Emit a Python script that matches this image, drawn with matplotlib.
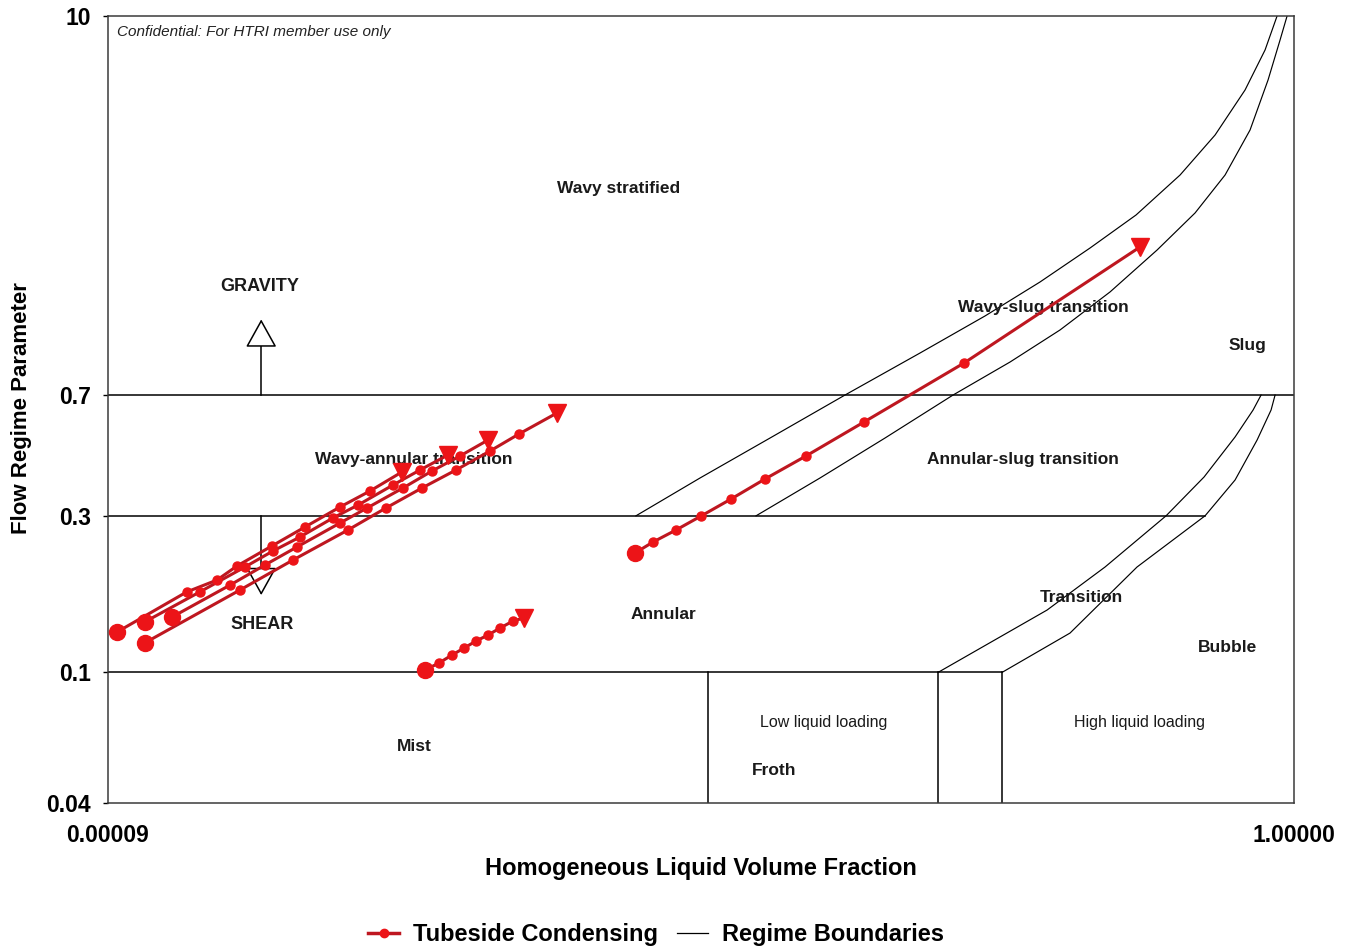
import matplotlib.pyplot as plt
from matplotlib.lines import Line2D
from matplotlib.ticker import NullLocator

plt.rcParams['font.family'] = ['Liberation Sans', 'DejaVu Sans']

# condensing paths: homogeneous liquid volume fraction vs flow regime parameter
path1_x = [9.66e-5, 1.67e-4, 2.12e-4, 2.48e-4, 3.26e-4, 4.23e-4, 5.57e-4, 7.05e-4, 9.06e-4]
path1_y = [0.1327, 0.1758, 0.1912, 0.2110, 0.2427, 0.2773, 0.3191, 0.3570, 0.4080]
path2_x = [1.20e-4, 1.85e-4, 2.64e-4, 3.29e-4, 4.07e-4, 5.27e-4, 6.42e-4, 8.45e-4, 1.044e-3, 1.300e-3]
path2_y = [0.1424, 0.1758, 0.2095, 0.2344, 0.2586, 0.2955, 0.3236, 0.3724, 0.4137, 0.4596]
path3_x = [1.49e-4, 2.35e-4, 3.09e-4, 3.97e-4, 5.57e-4, 6.89e-4, 9.14e-4, 1.148e-3, 1.430e-3, 1.782e-3]
path3_y = [0.1475, 0.1846, 0.2125, 0.2410, 0.2852, 0.3169, 0.3647, 0.4109, 0.4565, 0.5106]
path4_x = [1.20e-4, 2.54e-4, 3.85e-4, 5.93e-4, 7.99e-4, 1.061e-3, 1.385e-3, 1.810e-3, 2.272e-3, 3.063e-3]
path4_y = [0.1229, 0.1783, 0.2200, 0.2716, 0.3169, 0.3647, 0.4137, 0.4727, 0.5326, 0.6172]
path5_x = [1.086e-3, 1.212e-3, 1.343e-3, 1.475e-3, 1.621e-3, 1.782e-3, 1.958e-3, 2.168e-3, 2.363e-3]
path5_y = [0.1017, 0.1068, 0.1130, 0.1186, 0.1246, 0.1300, 0.1365, 0.1434, 0.1465]
path6_x = [5.653e-3, 6.512e-3, 7.803e-3, 9.50e-3, 1.202e-2, 1.570e-2, 2.166e-2, 3.416e-2, 7.495e-2, 0.2987]
path6_y = [0.2311, 0.2496, 0.2716, 0.2996, 0.3375, 0.3885, 0.4565, 0.5794, 0.8763, 1.978]
paths = [(path1_x, path1_y), (path2_x, path2_y), (path3_x, path3_y),
         (path4_x, path4_y), (path5_x, path5_y), (path6_x, path6_y)]

# regime boundaries
ws_upper_x = [0.005696, 0.009423, 0.01633, 0.02942, 0.05306, 0.08838, 0.1361,
              0.2017, 0.2895, 0.4090, 0.5385, 0.6814, 0.7974, 0.8763]
ws_upper_y = [0.3, 0.3912, 0.5178, 0.7, 0.9402, 1.219, 1.547,
              1.964, 2.476, 3.277, 4.339, 5.950, 7.879, 10.0]
ws_lower_x = [0.01463, 0.02418, 0.04029, 0.06874, 0.1076, 0.1593, 0.2360,
              0.3414, 0.4601, 0.5824, 0.7087, 0.8163, 0.8971, 0.9479]
ws_lower_y = [0.3, 0.3912, 0.5178, 0.7, 0.8826, 1.105, 1.443,
              1.936, 2.511, 3.277, 4.494, 6.383, 8.451, 10.0]
tr_left_x = [0.0611, 0.1439, 0.2269, 0.3664, 0.4938, 0.6300, 0.7258, 0.7727]
tr_left_y = [0.1, 0.1549, 0.2095, 0.3, 0.3939, 0.5216, 0.6302, 0.7]
tr_right_x = [0.1010, 0.1723, 0.2917, 0.4977, 0.6300, 0.7490, 0.8359, 0.8626]
tr_right_y = [0.1, 0.1318, 0.2095, 0.3, 0.3857, 0.5106, 0.6302, 0.7]
froth_x = [0.0100, 0.0611, 0.1010]

x_min, x_max = 9e-5, 1.0
y_min, y_max = 0.04, 10.0
y_ticks = [0.04, 0.1, 0.3, 0.7, 10]
y_tick_labels = ['0.04', '0.1', '0.3', '0.7', '10']
arrow_x = 3.0e-4

red_line = '#BE1720'
red_mark = '#EC1418'

fig = plt.figure(figsize=(13.56, 9.51), dpi=100)
ax = fig.add_axes([0.0796, 0.1556, 0.8746, 0.8276])
ax.set_xscale('log')
ax.set_yscale('log')
ax.set_xlim(x_min, x_max)
ax.set_ylim(y_min, y_max)

bk = dict(color='black', lw=1.1, zorder=2)
ax.plot([x_min, x_max], [0.7, 0.7], **bk)
ax.plot([x_min, tr_right_x[3]], [0.3, 0.3], **bk)
ax.plot([x_min, tr_right_x[0]], [0.1, 0.1], **bk)
for xv in froth_x:
    ax.plot([xv, xv], [y_min, 0.1], **bk)
thin = dict(color='black', lw=0.85, zorder=2)
ax.plot(ws_upper_x, ws_upper_y, **thin)
ax.plot(ws_lower_x, ws_lower_y, **thin)
ax.plot(tr_left_x, tr_left_y, **thin)
ax.plot(tr_right_x, tr_right_y, **thin)

# gravity / shear arrows
ax.plot([arrow_x, arrow_x], [0.7, 1.0], color='black', lw=1.1)
ax.annotate('', xy=(arrow_x, 1.19), xytext=(arrow_x, 0.99),
            arrowprops=dict(arrowstyle='-|>,head_length=0.9,head_width=0.5',
                            fc='white', ec='black', lw=1.1, mutation_scale=20,
                            shrinkA=0, shrinkB=0))
ax.plot([arrow_x, arrow_x], [0.3, 0.205], color='black', lw=1.1)
ax.annotate('', xy=(arrow_x, 0.172), xytext=(arrow_x, 0.207),
            arrowprops=dict(arrowstyle='-|>,head_length=0.9,head_width=0.5',
                            fc='white', ec='black', lw=1.1, mutation_scale=20,
                            shrinkA=0, shrinkB=0))

labels = [
    ('Wavy stratified', 0.4309, 0.7802, 'bold', 12.5),
    ('GRAVITY', 0.1282, 0.6557, 'bold', 13),
    ('Wavy-slug transition', 0.7884, 0.6290, 'bold', 12.5),
    ('Slug', 0.9612, 0.5807, 'bold', 12.5),
    ('Wavy-annular transition', 0.2580, 0.4371, 'bold', 12.5),
    ('Annular-slug transition', 0.7715, 0.4371, 'bold', 12.5),
    ('Transition', 0.8204, 0.2605, 'bold', 12.5),
    ('SHEAR', 0.1298, 0.2262, 'bold', 13),
    ('Annular', 0.4680, 0.2389, 'bold', 12.5),
    ('Bubble', 0.9444, 0.1982, 'bold', 12.5),
    ('Low liquid loading', 0.6037, 0.1017, 'normal', 11.5),
    ('High liquid loading', 0.8702, 0.1017, 'normal', 11.5),
    ('Mist', 0.2580, 0.0724, 'bold', 12.5),
    ('Froth', 0.5616, 0.0407, 'bold', 12.5),
]
for txt, fx, fy, wt, fs in labels:
    ax.text(fx, fy, txt, transform=ax.transAxes, ha='center', va='center',
            fontsize=fs, fontweight=wt, color='#1a1a1a', zorder=3)
ax.text(0.0076, 0.9797, 'Confidential: For HTRI member use only', transform=ax.transAxes,
        ha='left', va='center', fontsize=11, style='italic', color='#222222')

for px, py in paths:
    ax.plot(px, py, color=red_line, lw=2.2, zorder=4)
    ax.plot(px[1:-1], py[1:-1], 'o', color=red_mark, ms=6.5, zorder=5)
    ax.plot(px[0], py[0], 'o', color=red_mark, ms=11.5, zorder=5)
    ax.plot(px[-1], py[-1], 'v', color=red_mark, ms=13, zorder=5)

ax.set_yticks(y_ticks)
ax.set_yticklabels(y_tick_labels)
ax.yaxis.set_minor_locator(NullLocator())
ax.set_xticks([x_min, x_max])
ax.set_xticklabels(['0.00009', '1.00000'])
ax.xaxis.set_minor_locator(NullLocator())
ax.tick_params(axis='y', length=3.6, width=1, pad=8.6, labelsize=16.5)
ax.tick_params(axis='x', length=0, pad=15, labelsize=16.5)
for lab in ax.get_xticklabels() + ax.get_yticklabels():
    lab.set_fontweight('bold')
for sp in ax.spines.values():
    sp.set_color('#3a3a3a')
    sp.set_linewidth(1.1)

fig.text(0.5170, 1 - 868 / 951, 'Homogeneous Liquid Volume Fraction',
         ha='center', va='center', fontsize=17, fontweight='bold')
fig.text(22 / 1356, 1 - 408 / 951, 'Flow Regime Parameter', rotation=90,
         ha='center', va='center', fontsize=16, fontweight='bold')

handles = [Line2D([], [], color=red_line, lw=2.5, marker='o', ms=6, mfc=red_mark, mec=red_mark),
           Line2D([], [], color='black', lw=0.9)]
fig.legend(handles, ['Tubeside Condensing', 'Regime Boundaries'], loc='center',
           bbox_to_anchor=(0.4838, 1 - 935 / 951), ncol=2, frameon=False,
           prop=dict(size=17, weight='bold'), handlelength=1.3,
           handletextpad=0.6, columnspacing=0.8)

fig.savefig('out.png', dpi=100)
